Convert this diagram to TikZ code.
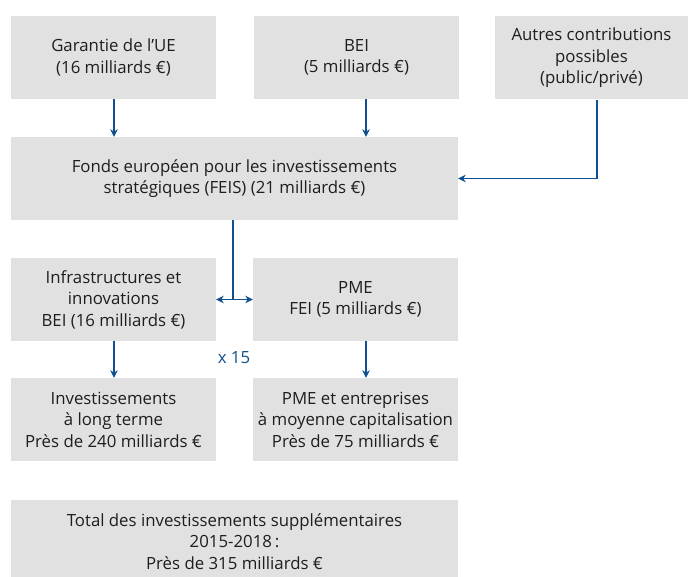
\documentclass[tikz,border=0pt]{standalone}
\usepackage{fontspec}
\setmainfont{Open Sans}
\usetikzlibrary{arrows.meta}
\definecolor{boxgray}{HTML}{E1E1E1}
\definecolor{txtgray}{HTML}{1E1E1E}
\definecolor{arrblue}{HTML}{11508F}
\begin{document}
\begin{tikzpicture}[x=1pt,y=-1pt,
  box/.style={fill=boxgray,draw=none,align=center,text=txtgray,inner sep=0pt,
    font=\fontsize{16.8}{21.5}\selectfont},
  arr/.style={draw=arrblue,line width=1.2pt,-{Stealth[length=7.5pt,width=7.5pt]}}]
\useasboundingbox (0,0) rectangle (689,577);
\node[box,minimum width=205pt,minimum height=83pt] (gar) at (113.5,57.5) {Garantie de l’UE\\(16 milliards €)};
\node[box,minimum width=205pt,minimum height=83pt] (bei) at (356.5,57.5) {BEI\\(5 milliards €)};
\node[box,minimum width=193pt,minimum height=83pt] (aut) at (591.5,58) {Autres contributions\\possibles\\(public/privé)};
\node[box,minimum width=447pt,minimum height=83pt] (feis) at (234.5,178.5) {Fonds européen pour les investissements\\stratégiques (FEIS) (21 milliards €)};
\node[box,minimum width=205pt,minimum height=83pt] (inf) at (113.5,299.5) {Infrastructures et\\innovations\\BEI (16 milliards €)};
\node[box,minimum width=205pt,minimum height=83pt] (pme) at (355.5,299.5) {PME\\FEI (5 milliards €)};
\node[box,minimum width=205pt,minimum height=83pt] (inv) at (113.5,419.5) {Investissements\\à long terme\\Près de 240 milliards €};
\node[box,minimum width=205pt,minimum height=83pt] (pmee) at (355.5,419.5) {PME et entreprises\\à moyenne capitalisation\\Près de 75 milliards €};
\node[box,minimum width=447pt,minimum height=83pt] (tot) at (234.5,541.5) {Total des investissements supplémentaires\\2015-2018\,:\\Près de 315 milliards €};
\node[text=arrblue,font=\fontsize{16.8}{21.5}\selectfont,inner sep=0pt] (x15) at (234,358) {x 15};
\coordinate (j) at (233,300);
\draw[arr] ([xshift=0.5pt]gar.south) -- ([xshift=0.5pt]gar.south |- feis.north);
\draw[arr] ([xshift=9.5pt]bei.south) -- ([xshift=9.5pt]bei.south |- feis.north);
\draw[arr] ([xshift=5.5pt]aut.south) |- (feis.east);
\draw[draw=arrblue,line width=1.2pt] (j |- feis.south) -- (j);
\draw[arr,{Stealth[length=7.5pt,width=7.5pt]}-{Stealth[length=7.5pt,width=7.5pt]}] (inf.east) -- (pme.west);
\draw[arr] ([xshift=0.5pt]inf.south) -- ([xshift=0.5pt]inf.south |- inv.north);
\draw[arr] ([xshift=10.5pt]pme.south) -- ([xshift=10.5pt]pme.south |- pmee.north);
\end{tikzpicture}
\end{document}
